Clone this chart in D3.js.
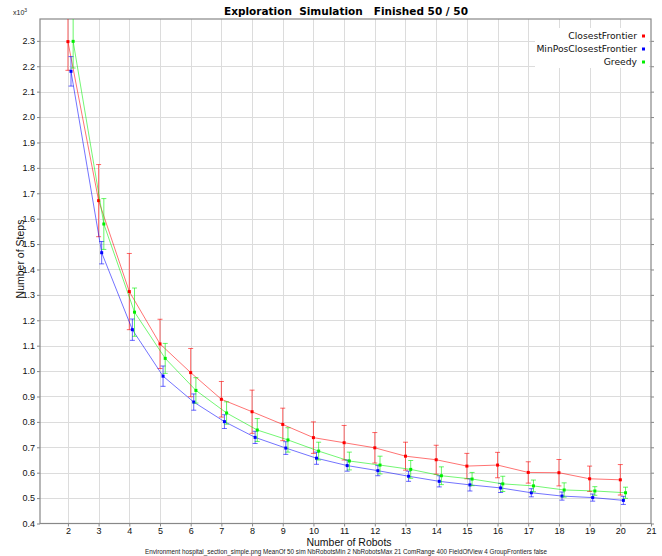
<!DOCTYPE html>
<html>
<head>
<meta charset="utf-8">
<script src="https://cdn.jsdelivr.net/npm/d3@7"></script>
<style>
  body { margin: 0; background: #fff; }
  svg { font-family: "Liberation Sans", "DejaVu Sans", sans-serif; }
</style>
</head>
<body>
<div class="graph"></div>
<script>
// data (x1000 steps)
var robots = [2, 3, 4, 5, 6, 7, 8, 9, 10, 11, 12, 13, 14, 15, 16, 17, 18, 19, 20];

var closestMean = [2.297, 1.671, 1.313, 1.107, 0.994, 0.889, 0.840, 0.790, 0.738, 0.718, 0.698, 0.665, 0.651, 0.626, 0.630, 0.601, 0.600, 0.576, 0.572];
var closestErr  = [0.113, 0.142, 0.150, 0.097, 0.095, 0.070, 0.085, 0.064, 0.062, 0.068, 0.060, 0.055, 0.057, 0.050, 0.050, 0.042, 0.052, 0.050, 0.060];

var minPosMean = [2.180, 1.466, 1.163, 0.980, 0.878, 0.801, 0.739, 0.697, 0.657, 0.628, 0.608, 0.586, 0.566, 0.552, 0.540, 0.521, 0.508, 0.502, 0.491];
var minPosErr  = [0.058, 0.044, 0.042, 0.040, 0.032, 0.027, 0.024, 0.025, 0.024, 0.022, 0.020, 0.020, 0.022, 0.024, 0.018, 0.016, 0.016, 0.014, 0.016];

var greedyMean = [2.298, 1.579, 1.232, 1.050, 0.924, 0.835, 0.768, 0.729, 0.685, 0.646, 0.630, 0.613, 0.588, 0.575, 0.556, 0.548, 0.532, 0.528, 0.521];
var greedyErr  = [0.105, 0.100, 0.095, 0.059, 0.050, 0.044, 0.045, 0.048, 0.035, 0.035, 0.035, 0.035, 0.035, 0.026, 0.030, 0.023, 0.028, 0.017, 0.022];

var seriesNames = ["ClosestFrontier", "MinPosClosestFrontier", "Greedy"];
var seriesColors = ["#ff0000", "#0000ff", "#00ee00"];
var seriesShift = [0, 0.1, 0.17];

var xTicks = d3.range(2, 22);
var yTicks = d3.range(4, 24).map(function(d) { return d / 10; });

var titleText = "Exploration  Simulation   Finished 50 / 50";
var footerText = "Environment hospital_section_simple.png MeanOf 50 sim NbRobotsMin 2 NbRobotsMax 21 ComRange 400 FieldOfView 4 GroupFrontiers false";

//prepare SVG
var svgWidth = 662;
var svgHeight = 556;
var plotLeft = 40, plotRight = 651, plotTop = 19, plotBottom = 523.5;

var svg = d3.select("div.graph")
	.append("svg")
	.attr("width", svgWidth)
	.attr("height", svgHeight);

var x = d3.scaleLinear().domain([1.09, 21]).range([plotLeft, plotRight]);
var y = d3.scaleLinear().domain([0.4, 2.386]).range([plotBottom, plotTop]);

svg.append("clipPath").attr("id", "plotclip")
	.append("rect")
	.attr("x", plotLeft).attr("y", plotTop)
	.attr("width", plotRight - plotLeft).attr("height", plotBottom - plotTop);

// grid
var grid = svg.append("g").attr("stroke", "#dcdcdc").attr("stroke-width", 1);
grid.selectAll("line.v")
	.data(xTicks.slice(0, -1))
	.enter().append("line")
	.attr("x1", function(d) { return Math.round(x(d)) + 0.5; })
	.attr("x2", function(d) { return Math.round(x(d)) + 0.5; })
	.attr("y1", plotTop).attr("y2", plotBottom);
grid.selectAll("line.h")
	.data(yTicks.slice(1))
	.enter().append("line")
	.attr("y1", function(d) { return Math.round(y(d)) + 0.5; })
	.attr("y2", function(d) { return Math.round(y(d)) + 0.5; })
	.attr("x1", plotLeft).attr("x2", plotRight);

// axes
var xAxis = d3.axisBottom(x).tickValues(xTicks).tickSize(3).tickPadding(1).tickFormat(d3.format("d"));
var yAxis = d3.axisLeft(y).tickValues(yTicks).tickSize(3).tickPadding(2).tickFormat(d3.format(".1f"));

var gx = svg.append("g").attr("transform", "translate(0," + plotBottom + ")").call(xAxis);
var gy = svg.append("g").attr("transform", "translate(" + plotLeft + ",0)").call(yAxis);
var gyr = svg.append("g").attr("transform", "translate(" + plotRight + ",0)")
	.call(d3.axisRight(y).tickValues(yTicks).tickSize(3).tickFormat(""));

[gx, gy, gyr].forEach(function(g) {
	g.select(".domain").remove();
	g.selectAll(".tick line").attr("stroke", "#888");
	g.selectAll(".tick text").attr("font-size", 9).attr("fill", "#111")
		.attr("font-family", "Liberation Sans, sans-serif");
});

// frame
svg.append("rect")
	.attr("x", plotLeft).attr("y", plotTop)
	.attr("width", plotRight - plotLeft).attr("height", plotBottom - plotTop)
	.attr("fill", "none").attr("stroke", "#888").attr("stroke-width", 1.2);

// series
var series = [
	{ mean: closestMean, err: closestErr },
	{ mean: minPosMean, err: minPosErr },
	{ mean: greedyMean, err: greedyErr }
];

var plot = svg.append("g").attr("clip-path", "url(#plotclip)");

series.forEach(function(s, i) {
	var pts = robots.map(function(r, n) {
		return { x: r + seriesShift[i], m: s.mean[n], e: s.err[n] };
	});
	var g = plot.append("g");
	var col = seriesColors[i];

	g.append("path")
		.datum(pts)
		.attr("fill", "none")
		.attr("stroke", col)
		.attr("stroke-opacity", 0.55)
		.attr("stroke-width", 1)
		.attr("d", d3.line().x(function(d) { return x(d.x); }).y(function(d) { return y(d.m); }));

	var eb = g.selectAll("g.eb").data(pts).enter().append("g")
		.attr("stroke", col).attr("stroke-opacity", 0.6).attr("stroke-width", 1);
	eb.append("line")
		.attr("x1", function(d) { return x(d.x); }).attr("x2", function(d) { return x(d.x); })
		.attr("y1", function(d) { return y(d.m + d.e); }).attr("y2", function(d) { return y(d.m - d.e); });
	eb.append("line")
		.attr("x1", function(d) { return x(d.x) - 2.5; }).attr("x2", function(d) { return x(d.x) + 2.5; })
		.attr("y1", function(d) { return y(d.m + d.e); }).attr("y2", function(d) { return y(d.m + d.e); });
	eb.append("line")
		.attr("x1", function(d) { return x(d.x) - 2.5; }).attr("x2", function(d) { return x(d.x) + 2.5; })
		.attr("y1", function(d) { return y(d.m - d.e); }).attr("y2", function(d) { return y(d.m - d.e); });

	g.selectAll("rect").data(pts).enter().append("rect")
		.attr("x", function(d) { return x(d.x) - 1.5; })
		.attr("y", function(d) { return y(d.m) - 1.5; })
		.attr("width", 3).attr("height", 3)
		.attr("fill", col);
});

// legend
var legend = svg.append("g");
legend.append("rect")
	.attr("x", 535).attr("y", 28).attr("width", 114).attr("height", 40)
	.attr("fill", "#fff");
seriesNames.forEach(function(name, i) {
	legend.append("text")
		.attr("x", 637).attr("y", 39 + i * 13)
		.attr("text-anchor", "end")
		.attr("font-size", 9.2)
		.attr("font-family", "DejaVu Sans, sans-serif")
		.attr("fill", "#111")
		.text(name);
	legend.append("rect")
		.attr("x", 642).attr("y", 34.5 + i * 13)
		.attr("width", 3).attr("height", 3)
		.attr("fill", seriesColors[i]);
});

// texts
svg.append("text")
	.attr("x", 346).attr("y", 15)
	.attr("text-anchor", "middle")
	.attr("font-size", 10.5).attr("font-weight", "bold")
	.attr("font-family", "DejaVu Sans, sans-serif")
	.style("white-space", "pre")
	.text(titleText);

var ex = svg.append("text").attr("x", 13).attr("y", 15).attr("font-size", 7).attr("fill", "#222");
ex.append("tspan").text("x10");
ex.append("tspan").attr("dy", -3).attr("font-size", 5).text("3");

svg.append("text")
	.attr("x", 349).attr("y", 545.5)
	.attr("text-anchor", "middle")
	.attr("font-size", 10.5)
	.attr("fill", "#111")
	.text("Number of Robots");

svg.append("text")
	.attr("transform", "translate(24,259) rotate(-90)")
	.attr("text-anchor", "middle")
	.attr("font-size", 10.5)
	.attr("fill", "#111")
	.text("Number of Steps");

svg.append("text")
	.attr("x", 346).attr("y", 553.5)
	.attr("text-anchor", "middle")
	.attr("font-size", 6.3)
	.attr("fill", "#222")
	.text(footerText);
</script>
</body>
</html>
